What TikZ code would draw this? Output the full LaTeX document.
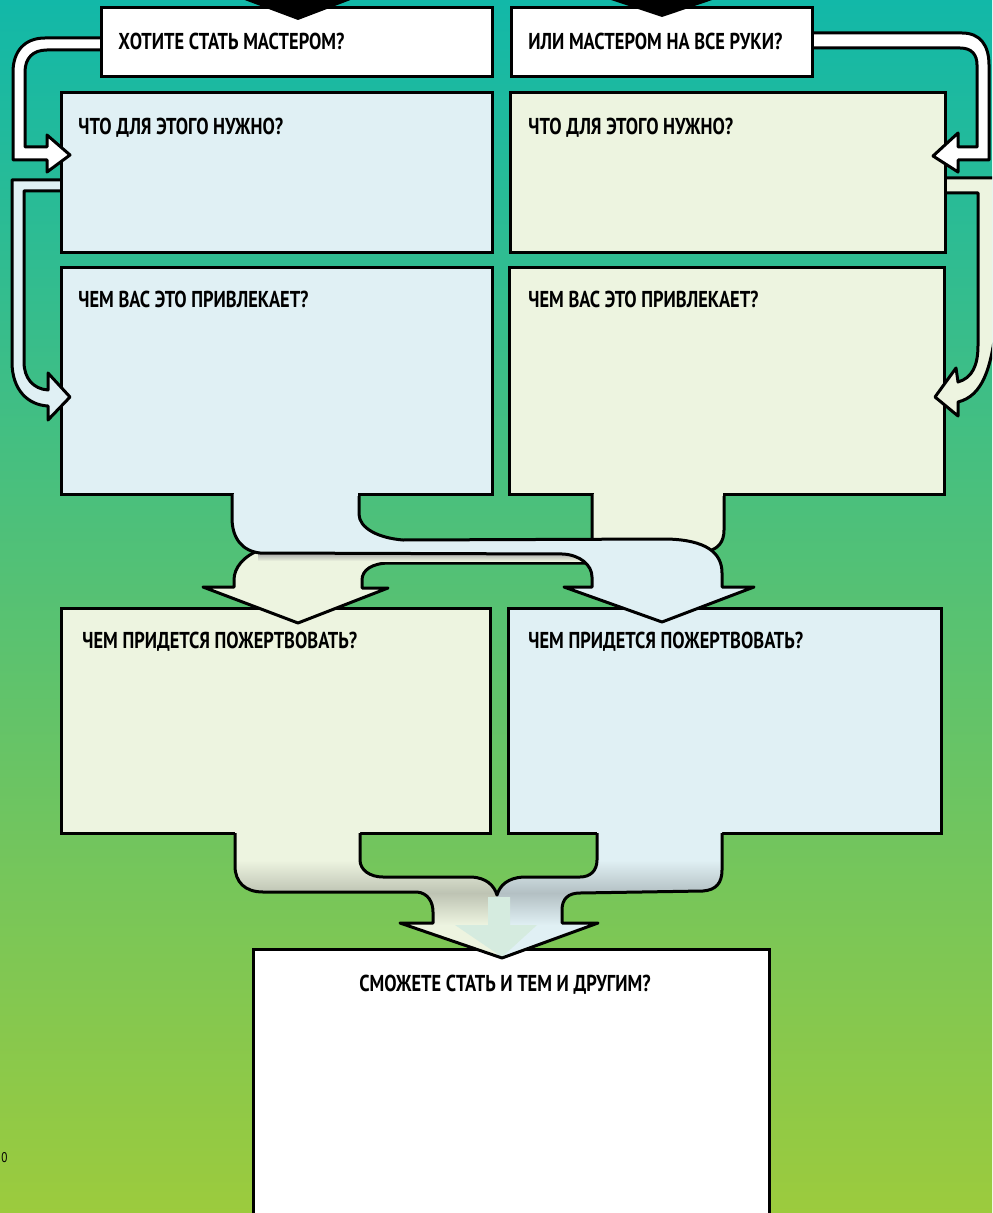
\documentclass[tikz,border=0pt]{standalone}
\usepackage{fontspec}
\setmainfont{PT Sans}[FakeStretch=0.8]
\usetikzlibrary{fit}

\definecolor{paleblue}{HTML}{E0F0F4}
\definecolor{palegreen}{HTML}{EDF4E0}
\definecolor{bgtop}{HTML}{12B8A8}
\definecolor{bgmid}{HTML}{66C07A}
\definecolor{bgbot}{HTML}{9CCB3D}
\definecolor{mixpale}{HTML}{D5EBDF}

\begin{document}
\begin{tikzpicture}[x=0.5pt, y=-0.5pt,
    box/.style = {draw, line width=1.5pt, inner sep=0pt, rectangle},
    ribbon/.style = {draw, line width=1.5pt, line join=round},
    ask/.style = {inner sep=0pt, font=\bfseries\fontsize{11.5}{13}\selectfont}]

    \useasboundingbox (0,0) rectangle (992,1213);
    \clip (0,0) rectangle (992,1213);
    \shade[top color=bgtop, middle color=bgmid, bottom color=bgbot] (0,0) rectangle (992,1213);

    % lower rows
    \node[box, fill=paleblue, fit={(61,268) (492,494)}] (like1) {};
    \node[box, fill=palegreen, fit={(509,268) (944,494)}] (like2) {};
    \node[box, fill=palegreen, fit={(61,608) (490,833)}] (cost1) {};
    \node[box, fill=paleblue, fit={(508,608) (941,833)}] (cost2) {};
    \node[box, fill=white, fit={(253,949) (769,1240)}] (both) {};

    % side ribbons into the second row
    \path[ribbon, fill=paleblue] (70,180) -- (12,180) -- (12,362) .. controls (12,390) and (28,405) .. (48,406) -- (48,420) -- (70,397) -- (48,373) -- (48,390) .. controls (33,389) and (24,378) .. (24,362) -- (24,191) -- (70,191);
    \path[ribbon, fill=palegreen] (935,178) -- (998,178) -- (998,300) .. controls (994,370) and (982,396) .. (958,402) -- (958,416) -- (935,397) -- (956,368) -- (958,382) .. controls (972,378) and (978,366) .. (978,345) -- (978,193) -- (935,193);

    \node[box, fill=paleblue, fit={(61,93) (492,253)}] (need1) {};
    \node[box, fill=palegreen, fit={(510,93) (945,253)}] (need2) {};

    % side ribbons into the first row
    \path[ribbon, fill=white] (110,38) -- (45,38) .. controls (24,38) and (13,52) .. (13,72) -- (13,160) -- (47,160) -- (47,172) -- (70,155) -- (47,135) -- (47,147) -- (25,147) -- (25,72) .. controls (25,58) and (33,50) .. (47,50) -- (110,50);
    \path[ribbon, fill=white] (800,33) -- (962,33) .. controls (980,33) and (989,45) .. (989,65) -- (989,160) -- (958,160) -- (958,172) -- (933,156) -- (958,133) -- (958,147) -- (977,147) -- (977,65) .. controls (977,55) and (972,48) .. (960,48) -- (800,48);

    \node[box, fill=white, fit={(101,8) (492,77)}] (want1) {};
    \node[box, fill=white, fit={(511,8) (812,77)}] (want2) {};

    \fill (234,-4) -- (298,20) -- (361,-4) -- cycle;
    \fill (599,-4) -- (662,17) -- (724,-4) -- cycle;

    % crossing ribbons
    \path[ribbon, fill=palegreen] (724,494) -- (724,530) .. controls (724,542) and (718,549) .. (708,551) -- (600,563) -- (390,563) .. controls (372,563) and (362,570) .. (362,580) -- (362,588) -- (388,588) -- (298,623) -- (203,587) -- (234,587) -- (234,580) .. controls (234,568) and (243,556) .. (262,549) -- (592,546) -- (592,494);
    \fill[palegreen] (593.5,489) rectangle (722.5,496);
    \shade[top color=black!35, bottom color=palegreen] (258,553) rectangle (590,561);
    \path[ribbon, fill=paleblue] (232,494) -- (232,518) .. controls (232,538) and (242,551) .. (260,553) -- (563,554) .. controls (580,555) and (592,565) .. (592,577) -- (592,587) -- (564,587) -- (662,622) -- (754,587) -- (722,587) -- (722,573) .. controls (722,552) and (705,540) .. (667,539) -- (403,540) .. controls (378,538) and (359,528) .. (359,514) -- (359,494);
    \fill[paleblue] (233.5,489) rectangle (357.5,496);

    % merging ribbon
    \begin{scope}
        \clip (235,829) -- (235,866) .. controls (235,882) and (245,892) .. (263,892) -- (417,892) .. controls (428,893) and (433,902) .. (433,912) -- (433,923) -- (400,923) -- (502,958) -- (598,923) -- (562,923) -- (562,910) .. controls (562,899) and (568,893) .. (580,893) -- (703,891) .. controls (716,890) and (722,883) .. (722,870) -- (722,829) -- (597,829) -- (597,860) .. controls (597,871) and (590,877) .. (580,877) -- (523,877) .. controls (508,878) and (500,885) .. (497,895) .. controls (494,885) and (486,878) .. (472,877) -- (383,877) .. controls (370,877) and (360,870) .. (360,860) -- (360,829) -- cycle;
        \fill[palegreen] (230,825) rectangle (497,960);
        \fill[paleblue] (497,825) rectangle (725,960);
        \shade[top color=palegreen, bottom color=palegreen!80!black] (230,860) rectangle (497,893);
        \shade[top color=palegreen!80!black, bottom color=palegreen] (230,893) rectangle (497,925);
        \shade[top color=paleblue, bottom color=paleblue!80!black] (497,860) rectangle (725,893);
        \shade[top color=paleblue!80!black, bottom color=paleblue] (497,893) rectangle (725,925);
        \fill[mixpale] (488,897) -- (510,897) -- (510,925) -- (537,925) -- (502,957) -- (455,925) -- (488,925) -- cycle;
    \end{scope}
    \draw[ribbon] (235,833) -- (235,866) .. controls (235,882) and (245,892) .. (263,892) -- (417,892) .. controls (428,893) and (433,902) .. (433,912) -- (433,923) -- (400,923) -- (502,958) -- (598,923) -- (562,923) -- (562,910) .. controls (562,899) and (568,893) .. (580,893) -- (703,891) .. controls (716,890) and (722,883) .. (722,870) -- (722,833);
    \draw[ribbon] (597,833) -- (597,860) .. controls (597,871) and (590,877) .. (580,877) -- (523,877) .. controls (508,878) and (500,885) .. (497,895) .. controls (494,885) and (486,878) .. (472,877) -- (383,877) .. controls (370,877) and (360,870) .. (360,860) -- (360,833);

    % questions
    \node[ask, anchor=base west] (want1q) at (118,50) {ХОТИТЕ СТАТЬ МАСТЕРОМ?};
    \node[ask, anchor=base west] (want2q) at (528,50) {ИЛИ МАСТЕРОМ НА ВСЕ РУКИ?};
    \node[ask, anchor=base west] (need1q) at (78,135) {ЧТО ДЛЯ ЭТОГО НУЖНО?};
    \node[ask, anchor=base west] (need2q) at (528,135) {ЧТО ДЛЯ ЭТОГО НУЖНО?};
    \node[ask, anchor=base west] (like1q) at (78,308) {ЧЕМ ВАС ЭТО ПРИВЛЕКАЕТ?};
    \node[ask, anchor=base west] (like2q) at (528,308) {ЧЕМ ВАС ЭТО ПРИВЛЕКАЕТ?};
    \node[ask, anchor=base west] (cost1q) at (82,648) {ЧЕМ ПРИДЕТСЯ ПОЖЕРТВОВАТЬ?};
    \node[ask, anchor=base west] (cost2q) at (528,648) {ЧЕМ ПРИДЕТСЯ ПОЖЕРТВОВАТЬ?};
    \node[ask, anchor=base] (bothq) at (505,991) {СМОЖЕТЕ СТАТЬ И ТЕМ И ДРУГИМ?};
    \node[inner sep=0pt, anchor=base west, font=\fontsize{7}{8}\selectfont] (pagenum) at (1,1162) {0};
\end{tikzpicture}
\end{document}
